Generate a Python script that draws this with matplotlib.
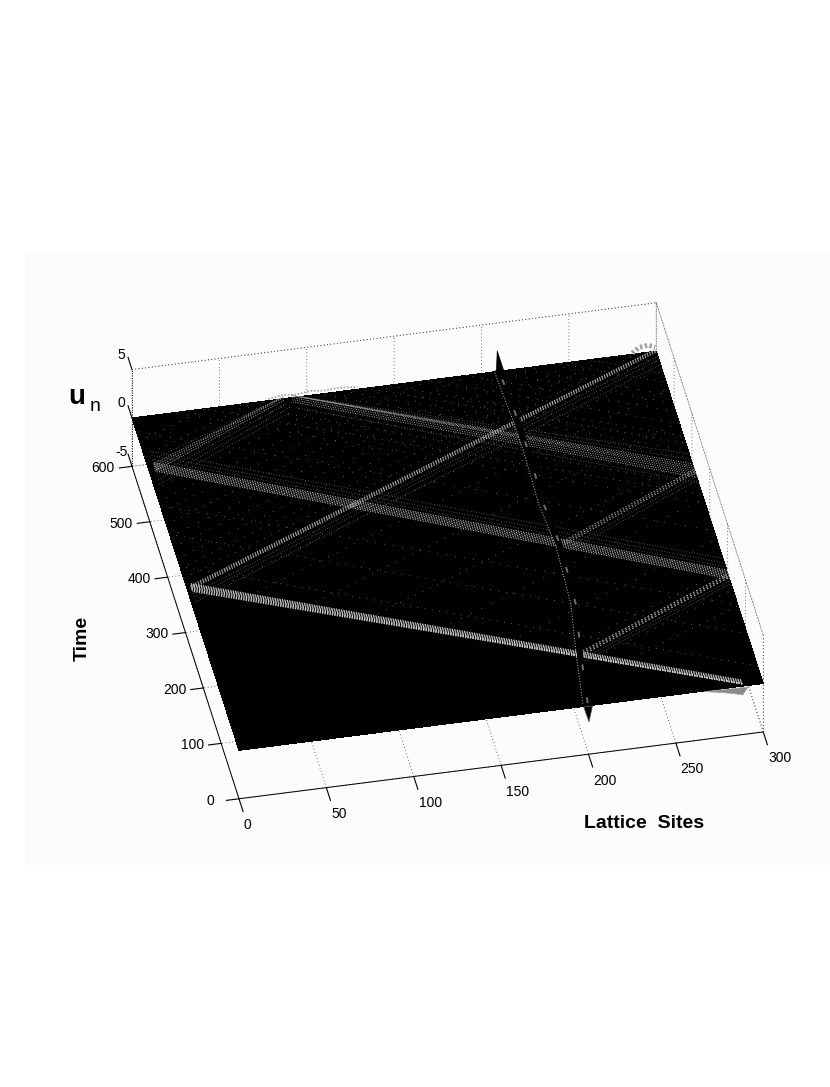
import numpy as np
import matplotlib
matplotlib.use('Agg')
import matplotlib.pyplot as plt
from matplotlib.patches import Rectangle
from mpl_toolkits.mplot3d import proj3d
from mpl_toolkits.mplot3d.art3d import Poly3DCollection

plt.rcParams['font.family'] = ['Liberation Sans', 'DejaVu Sans']
plt.rcParams['axes.unicode_minus'] = False
plt.rcParams['grid.linestyle'] = (0, (1, 3))
plt.rcParams['grid.linewidth'] = 0.6
plt.rcParams['grid.color'] = '#404040'

# ticks
site_ticks = [0, 50, 100, 150, 200, 250, 300]
time_ticks = [0, 100, 200, 300, 400, 500, 600]
u_ticks = [-5, 0, 5]

# soliton tracks (site, time)
r1_sites = [288, 2]
r1_times = [0, 289]
r2_sites = [2, 300]
r2_times = [289, 598]
r3_sites = [204, 300]
r3_times = [87, 191]
r4_sites = [300, 3]
r4_times = [191, 505]
r5_sites = [3, 87]
r5_times = [505, 600]
r6_sites = [215, 300]
r6_times = [284, 380]
r7_sites = [300, 91]
r7_times = [380, 600]

# central breather, drifts slightly
core_sites = [199, 204, 210, 212, 210, 211, 210.5, 209]
core_times = [0, 87, 175, 277, 355, 452, 517, 598]

# spikes at both ends of the breather
top_spike_sites = [208, 208.5, 212.5]
top_spike_u = [0, 2.3, 0]
low_spike_sites = [197, 200, 202]
low_spike_u = [0, -1.6, 0]

# bumps along the boundaries
far_left_sites = [78, 86, 94, 102, 110, 118, 129]
far_left_u = [0.15, 0.4, 0.25, 0.45, 0.3, 0.4, 0.25]
far_right_sites = [286, 290, 295, 299]
far_right_u = [0.3, 0.8, 0.9, 0.6]
near_edge_sites = [266, 275, 283, 288, 291]
near_edge_u = [0, -0.3, -0.6, -0.85, -0.1]

# weak radiation behind the first track (x+t and t-x of each trail)
trail_sum = [331, 389, 441, 503, 575, 623, 640, 658, 671, 690, 707, 720, 733, 745, 768,
             790, 806, 820, 843, 860, 879]
trail_diff = [-160, -131, -95, -40, 33, 105, 171, 232, 268, 291, 310, 327, 345, 366, 385,
              407, 430, 449, 470, 501, 530, 557]

fig = plt.figure(figsize=(8.3, 10.87), dpi=100, facecolor='white')
fig.add_artist(Rectangle((25 / 830, 1 - 865 / 1087), 805 / 830, 612 / 1087,
                         transform=fig.transFigure, facecolor='#fcfcfc',
                         edgecolor='none', zorder=-1))

ax = fig.add_axes([0.0258, 0.1012, 1.0, 0.7636], projection='3d',
                  computed_zorder=False, proj_type='ortho')
ax.patch.set_alpha(0)
ax.view_init(elev=39, azim=-101.45)
ax.set_box_aspect((537, 541, 125), zoom=0.9)
ax.set_xlim(0, 300, view_margin=0)
ax.set_ylim(0, 600, view_margin=0)
ax.set_zlim(-5, 5, view_margin=0)
ax.set_xticks(site_ticks)
ax.set_yticks(time_ticks)
ax.set_zticks(u_ticks)
ax.tick_params(labelsize=10, width=0.7)
ax.tick_params(axis='x', pad=6)
ax.tick_params(axis='y', pad=9)
ax.tick_params(axis='z', labelleft=False, labelright=False)
plt.setp(ax.get_xticklabels(), ha='left')
plt.setp(ax.get_yticklabels(), va='bottom')

# z ticks run along the time direction here, as in the original
ax.zaxis._get_tickdir = lambda pos: 1

for axis in (ax.xaxis, ax.yaxis, ax.zaxis):
    axis.set_pane_color((1, 1, 1, 0))
    axis.pane.set_edgecolor('none')
    axis.line.set_linewidth(0.7)
ax.xaxis._axinfo['tick'].update(inward_factor=0.48, outward_factor=0)
ax.yaxis._axinfo['tick'].update(inward_factor=0.3, outward_factor=0)
ax.zaxis._axinfo['tick'].update(inward_factor=0, outward_factor=0.46)
ax.zaxis.line.set_linestyle((0, (1, 1.5)))

# z labels sit past the tick ends, so place them through the projection
proj = ax.get_proj()
for u in u_ticks:
    px, py, _ = proj3d.proj_transform(-3, 628, u, proj)
    ax.text2D(px, py, str(u), transform=ax.transData, fontsize=10, ha='center', va='center')

# top of the box, dotted like the grid
box_style = dict(color='#404040', lw=0.6, ls=(0, (1, 3)), zorder=0.5)
ax.plot([0, 300], [600, 600], [5, 5], **box_style)
ax.plot([300, 300], [600, 0], [5, 5], **box_style)
ax.plot([300, 300], [0, 0], [-5, 5], **box_style)

# the sheet itself
xx, yy = np.meshgrid([0, 300], [0, 600])
ax.plot_surface(xx, yy, np.zeros_like(xx, dtype=float), color='black', shade=False,
                antialiased=False, zorder=1)

# faint speckle
for i, c in enumerate(trail_sum):
    t0, t1 = max(c - 300, 0), min(c, 600)
    if t1 > t0:
        ax.plot([c - t0, c - t1], [t0, t1], [0.05, 0.05], color='#989898', lw=0.6,
                ls=(i % 7, (0.8, 8 + i % 6)), zorder=2)
for i, c in enumerate(trail_diff):
    s0 = max(0, (288 - c) / 2)
    s1 = min(300, 600 - c)
    if s1 > s0:
        ax.plot([s0, s1], [s0 + c, s1 + c], [0.05, 0.05], color='#989898', lw=0.6,
                ls=(i % 5, (0.8, 9 + i % 5)), zorder=2)


def band(sites, times, offsets, color='#bdbdbd', lw=0.9, ls=(0, (1, 1))):
    for off in offsets:
        ax.plot(sites, np.clip(np.array(times) + off, 0, 600), [0.25, 0.25],
                color=color, lw=lw, ls=ls, zorder=3)


band(r1_sites, r1_times, [-7, -5, -3, -1, 1, 3, 5, 7], color='#d0d0d0', lw=0.9)
band(r2_sites, r2_times, [-3, -1, 1, 3], color='#bcbcbc', lw=0.8, ls=(0, (1, 1.4)))
band(r2_sites, r2_times, [-11, -17, -26], color='#787878', lw=0.55, ls=(0, (1, 2.5)))
band(r3_sites, r3_times, [-3, 0, 3], color='#b0b0b0', lw=0.8, ls=(0, (1.5, 1.8)))
band(r3_sites, r3_times, [-9, -14], color='#787878', lw=0.55, ls=(0, (1, 2.5)))
band(r4_sites, r4_times, [-6, -3, 0, 3, 6, 9], color='#b8b8b8', lw=0.8, ls=(0, (1, 1.3)))
band(r4_sites, r4_times, [15, 22, 30], color='#787878', lw=0.55, ls=(0, (1, 2.5)))
band(r5_sites, r5_times, [-6, -2, 2, 6], color='#a4a4a4', lw=0.7, ls=(0, (1, 1.5)))
band(r5_sites, r5_times, [-14, -22, -30, 13], color='#787878', lw=0.55, ls=(0, (1, 2.5)))
band(r6_sites, r6_times, [-3, 0, 3], color='#a4a4a4', lw=0.7, ls=(0, (1.5, 1.8)))
band(r6_sites, r6_times, [-10, -16], color='#787878', lw=0.55, ls=(0, (1, 2.5)))
band(r7_sites, r7_times, [-12, -8, -4, 0, 4, 8, 12], color='#acacac', lw=0.7, ls=(0, (1, 1.5)))
band(r7_sites, r7_times, [-22, 20, 30], color='#787878', lw=0.55, ls=(0, (1, 2.5)))

# breather: dark core with light dotted rims
ax.plot(core_sites, core_times, np.zeros(len(core_sites)) + 0.3, color='black', lw=4.5,
        zorder=4, solid_capstyle='butt')
ax.plot(np.array(core_sites) - 2.2, core_times, np.zeros(len(core_sites)) + 0.3,
        color='#c0c0c0', lw=0.7, ls=(0, (1, 1.8)), zorder=5)
ax.plot(np.array(core_sites) + 0.5, core_times, np.zeros(len(core_sites)) + 0.3,
        color='#6e6e6e', lw=1.4, ls=(0, (3, 14)), zorder=5)

# spikes
ax.add_collection3d(Poly3DCollection(
    [list(zip(top_spike_sites, [598] * 3, top_spike_u))],
    facecolor='black', edgecolor='black', linewidth=0.5, zorder=6))
ax.add_collection3d(Poly3DCollection(
    [list(zip(low_spike_sites, [0] * 3, low_spike_u))],
    facecolor='black', edgecolor='#505050', linewidth=0.5, zorder=6))

# edge bumps
ax.plot(far_left_sites, [600] * len(far_left_sites), far_left_u, color='#a0a0a0', lw=1.2,
        ls=(0, (1, 1)), zorder=3)
ax.plot(far_right_sites, [597] * len(far_right_sites), far_right_u, color='#a0a0a0', lw=3.5,
        ls=(0, (0.5, 0.5)), zorder=3)
ax.add_collection3d(Poly3DCollection(
    [list(zip(near_edge_sites, [0] * len(near_edge_sites), near_edge_u))],
    facecolor='#8a8a8a', edgecolor='#a8a8a8', linewidth=0.5, zorder=3))

fig.text(644.5 / 830, 1 - 823 / 1087, 'Lattice  Sites', fontsize=14, fontweight='bold',
         ha='center', va='center')
fig.text(82 / 830, 1 - 638 / 1087, 'Time', fontsize=14, fontweight='bold', rotation=90,
         ha='center', va='center')
fig.text(77 / 830, 1 - 397 / 1087, 'u', fontsize=20, fontweight='bold', ha='center',
         va='center')
fig.text(95 / 830, 1 - 407 / 1087, 'n', fontsize=14, ha='center', va='center')

fig.savefig('out.png', dpi=100)
